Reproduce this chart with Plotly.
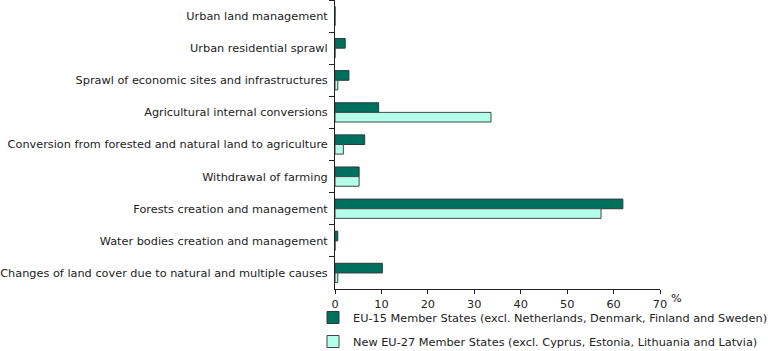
import plotly.graph_objects as go

categories = [
    "Urban land management",
    "Urban residential sprawl",
    "Sprawl of economic sites and infrastructures",
    "Agricultural internal conversions",
    "Conversion from forested and natural land to agriculture",
    "Withdrawal of farming",
    "Forests creation and management",
    "Water bodies creation and management",
    "Changes of land cover due to natural and multiple causes",
]
eu15 = [0, 2.2, 3.0, 9.4, 6.4, 5.2, 62.0, 0.6, 10.2]
new_eu = [0, 0, 0.6, 33.6, 1.8, 5.2, 57.3, 0, 0.6]
series_names = [
    "EU-15 Member States (excl. Netherlands, Denmark, Finland and Sweden)",
    "New EU-27 Member States (excl. Cyprus, Estonia, Lithuania and Latvia)",
]
x_ticks = [0, 10, 20, 30, 40, 50, 60, 70]

FONT = "DejaVu Sans"
FS = 11.3
fig = go.Figure()
fig.add_trace(go.Bar(
    y=categories, x=eu15, orientation="h", name=series_names[0],
    marker=dict(color="#00705e", line=dict(color="#2b3b38", width=1)),
    legendgroup="a",
))
fig.add_trace(go.Bar(
    y=categories, x=new_eu, orientation="h", name=series_names[1],
    marker=dict(color="#b4ffe9", line=dict(color="#3a4a46", width=1)),
    legendgroup="b",
))
fig.update_layout(
    width=768, height=351,
    margin=dict(l=335, r=108, t=0, b=62, pad=0, autoexpand=False),
    paper_bgcolor="white", plot_bgcolor="white",
    barmode="group", bargap=0.4, bargroupgap=0,
    font=dict(family=FONT, size=FS, color="#222"),
    showlegend=True,
    legend=dict(
        orientation="v", xref="container", yref="container",
        x=313 / 768, xanchor="left", y=1 - 303 / 351, yanchor="top",
        traceorder="grouped", tracegroupgap=5,
        font=dict(family=FONT, size=FS, color="#222"),
        itemwidth=30, bgcolor="rgba(0,0,0,0)",
    ),
    xaxis=dict(
        range=[0, 70], tickvals=x_ticks, showgrid=False, zeroline=False,
        showline=True, linecolor="#222", linewidth=1,
        ticks="outside", ticklen=4, tickcolor="#222",
        tickfont=dict(family=FONT, size=FS, color="#222"),
    ),
    yaxis=dict(
        autorange="reversed", showgrid=False, zeroline=False,
        showline=True, linecolor="#222", linewidth=1,
        ticks="outside", ticklen=5, tickcolor="#222", tickson="boundaries",
        ticklabelstandoff=4,
        tickfont=dict(family=FONT, size=FS, color="#222"),
    ),
    annotations=[dict(
        text="%", xref="paper", yref="paper", x=1.0, y=0, xanchor="left",
        yanchor="top", xshift=9, yshift=-1, showarrow=False,
        font=dict(family=FONT, size=FS, color="#222"),
    )],
)
fig.write_html("out.html")
